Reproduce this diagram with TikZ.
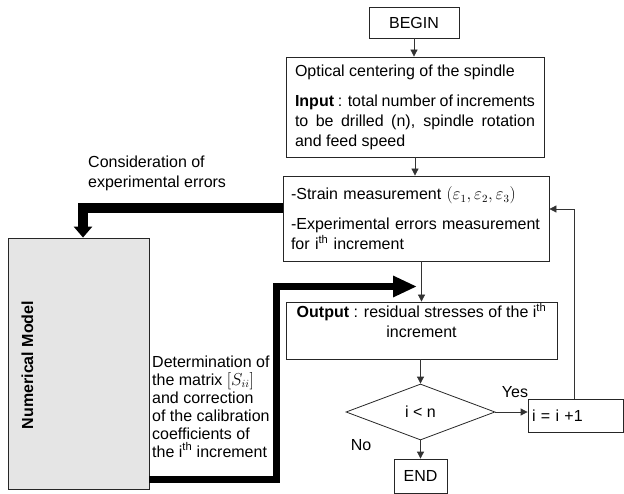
\documentclass[tikz,border=0pt]{standalone}
\usepackage{fontspec}
\setmainfont{Liberation Sans}
\usetikzlibrary{arrows.meta,shapes.geometric,calc}
\setlength\parindent{0pt}
\hyphenpenalty=10000
\exhyphenpenalty=10000
\begin{document}
\begin{tikzpicture}[x=1pt,y=-1pt,
  font=\fontsize{16}{20}\selectfont,
  box/.style={draw=black!85, line width=0.8pt, inner sep=0pt},
  arr/.style={draw=black!80, line width=0.8pt, -{Triangle[length=7pt,width=7pt]}},
  thickA/.style={line width=10pt, -{Triangle[length=11pt,width=18pt]}},
  thickB/.style={line width=7pt, -{Triangle[length=24pt,width=20pt]}},
  lbl/.style={inner sep=0pt}
]
\useasboundingbox (0,0) rectangle (624,494);

% boxes
\node[box, minimum width=90pt, minimum height=31pt] (begin) at (414,22.5) {BEGIN};
\node[box, minimum width=258pt, minimum height=100pt, text width=240pt, inner xsep=9pt, align=justify] (b1) at (415,107)
  {Optical centering of the spindle\par\vspace{10pt}\textbf{Input} : total number of increments to be drilled (n), spindle rotation and feed speed};
\node[box, minimum width=266pt, minimum height=85pt, text width=250pt, inner xsep=8pt, align=left] (b2) at (416,218.5)
  {-Strain measurement $(\varepsilon_1,\varepsilon_2,\varepsilon_3)$\par\vspace{10pt}-Experimental errors measurement\\for i\textsuperscript{th} increment};
\node[box, minimum width=271pt, minimum height=57pt, align=center] (b3) at (421.5,330.5)
  {\textbf{Output} : residual stresses of the i\textsuperscript{th}\\increment\\\mbox{}};
\node[box, diamond, minimum width=149pt, minimum height=56pt] (d) at (420.5,412) {i < n};
\node[box, minimum width=95pt, minimum height=33pt, text width=87pt, inner xsep=4pt, align=left] (inc) at (575.5,415.5) {i = i +1};
\node[box, minimum width=53pt, minimum height=34pt] (end) at (420.5,476) {END};
\node[box, fill=gray!20, minimum width=141pt, minimum height=251pt] (nm) at (78.5,363.5) {};
\node[lbl, rotate=90, font=\fontsize{16}{20}\selectfont\bfseries] (nmt) at (27.5,365) {Numerical Model};

% labels
\node[lbl, anchor=north west, align=left] (lab1) at (88,155.3) {Consideration of\\experimental errors};
\node[lbl, anchor=north west, align=left, font=\fontsize{16}{18}\selectfont] (lab2) at (152,355.3)
  {Determination of\\the matrix $[S_{ii}]$\\and correction\\of the calibration\\coefficients of\\the i\textsuperscript{th} increment};
\node[lbl] (yes) at (515,392.5) {Yes};
\node[lbl] (no) at (361,445) {No};

% thin connectors
\coordinate (fb) at (574,209);
\draw[arr] (begin.south) -- (begin.south |- b1.north);
\draw[arr] (b1.south) -- (b1.south |- b2.north);
\draw[arr] (b2.south -| b3.north) -- (b3.north);
\draw[arr] (b3.south -| d.north) -- (d.north);
\draw[arr] (d.south) -- (end.north);
\draw[arr] (d.east) -- (d.east -| inc.west);
\draw[arr] (inc.north -| fb) |- (b2.east |- fb);

% thick connectors
\coordinate (ta) at (83,208);
\draw[thickA] (b2.west |- ta) -| (nm.north -| ta);
\coordinate (tb) at (276.5,479.5);
\coordinate (tip) at (417,286.5);
\draw[thickB] (nm.east |- tb) -- (tb) -- (tb |- tip) -- (tip);
\end{tikzpicture}
\end{document}
